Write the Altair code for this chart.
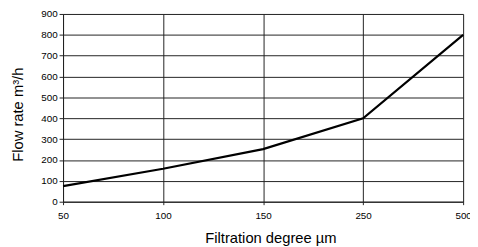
import altair as alt
import pandas as pd

degrees = ["50", "100", "150", "250", "500"]
flow = [75, 158, 252, 400, 800]
y_ticks = [0, 100, 200, 300, 400, 500, 600, 700, 800, 900]

df = pd.DataFrame({"degree": degrees, "flow": flow})

chart = alt.Chart(df).mark_line(color="black", strokeWidth=2.2).encode(
    x=alt.X("degree:O", sort=degrees,
            scale=alt.Scale(type="point", padding=0),
            axis=alt.Axis(title="Filtration degree µm", labelAngle=0, grid=True,
                          gridColor="#222", gridWidth=1, domainColor="#222",
                          tickColor="#222", tickSize=3, labelPadding=6,
                          labelFontSize=10, titleFontSize=15, titleFontWeight="normal",
                          labelColor="black", titleColor="black",
                          titleX=211, titleY=36, titleBaseline="middle")),
    y=alt.Y("flow:Q", scale=alt.Scale(domain=[0, 900], nice=False),
            axis=alt.Axis(title="Flow rate m³/h", values=y_ticks, grid=True,
                          gridColor="#222", gridWidth=1, domainColor="#222",
                          tickColor="#222", tickSize=4, labelPadding=2,
                          labelFontSize=10, titleFontSize=15, titleFontWeight="normal",
                          labelColor="black", titleColor="black",
                          titleX=-46, titleY=102, titleBaseline="middle")),
).properties(
    width=407, height=191,
    autosize=alt.AutoSizeParams(type="none"),
    padding={"left": 56, "top": 4, "right": 7, "bottom": 44},
).configure_view(stroke=None).configure(font="Liberation Sans")

chart.save("out.html", embed_options={"renderer": "svg", "actions": False})
